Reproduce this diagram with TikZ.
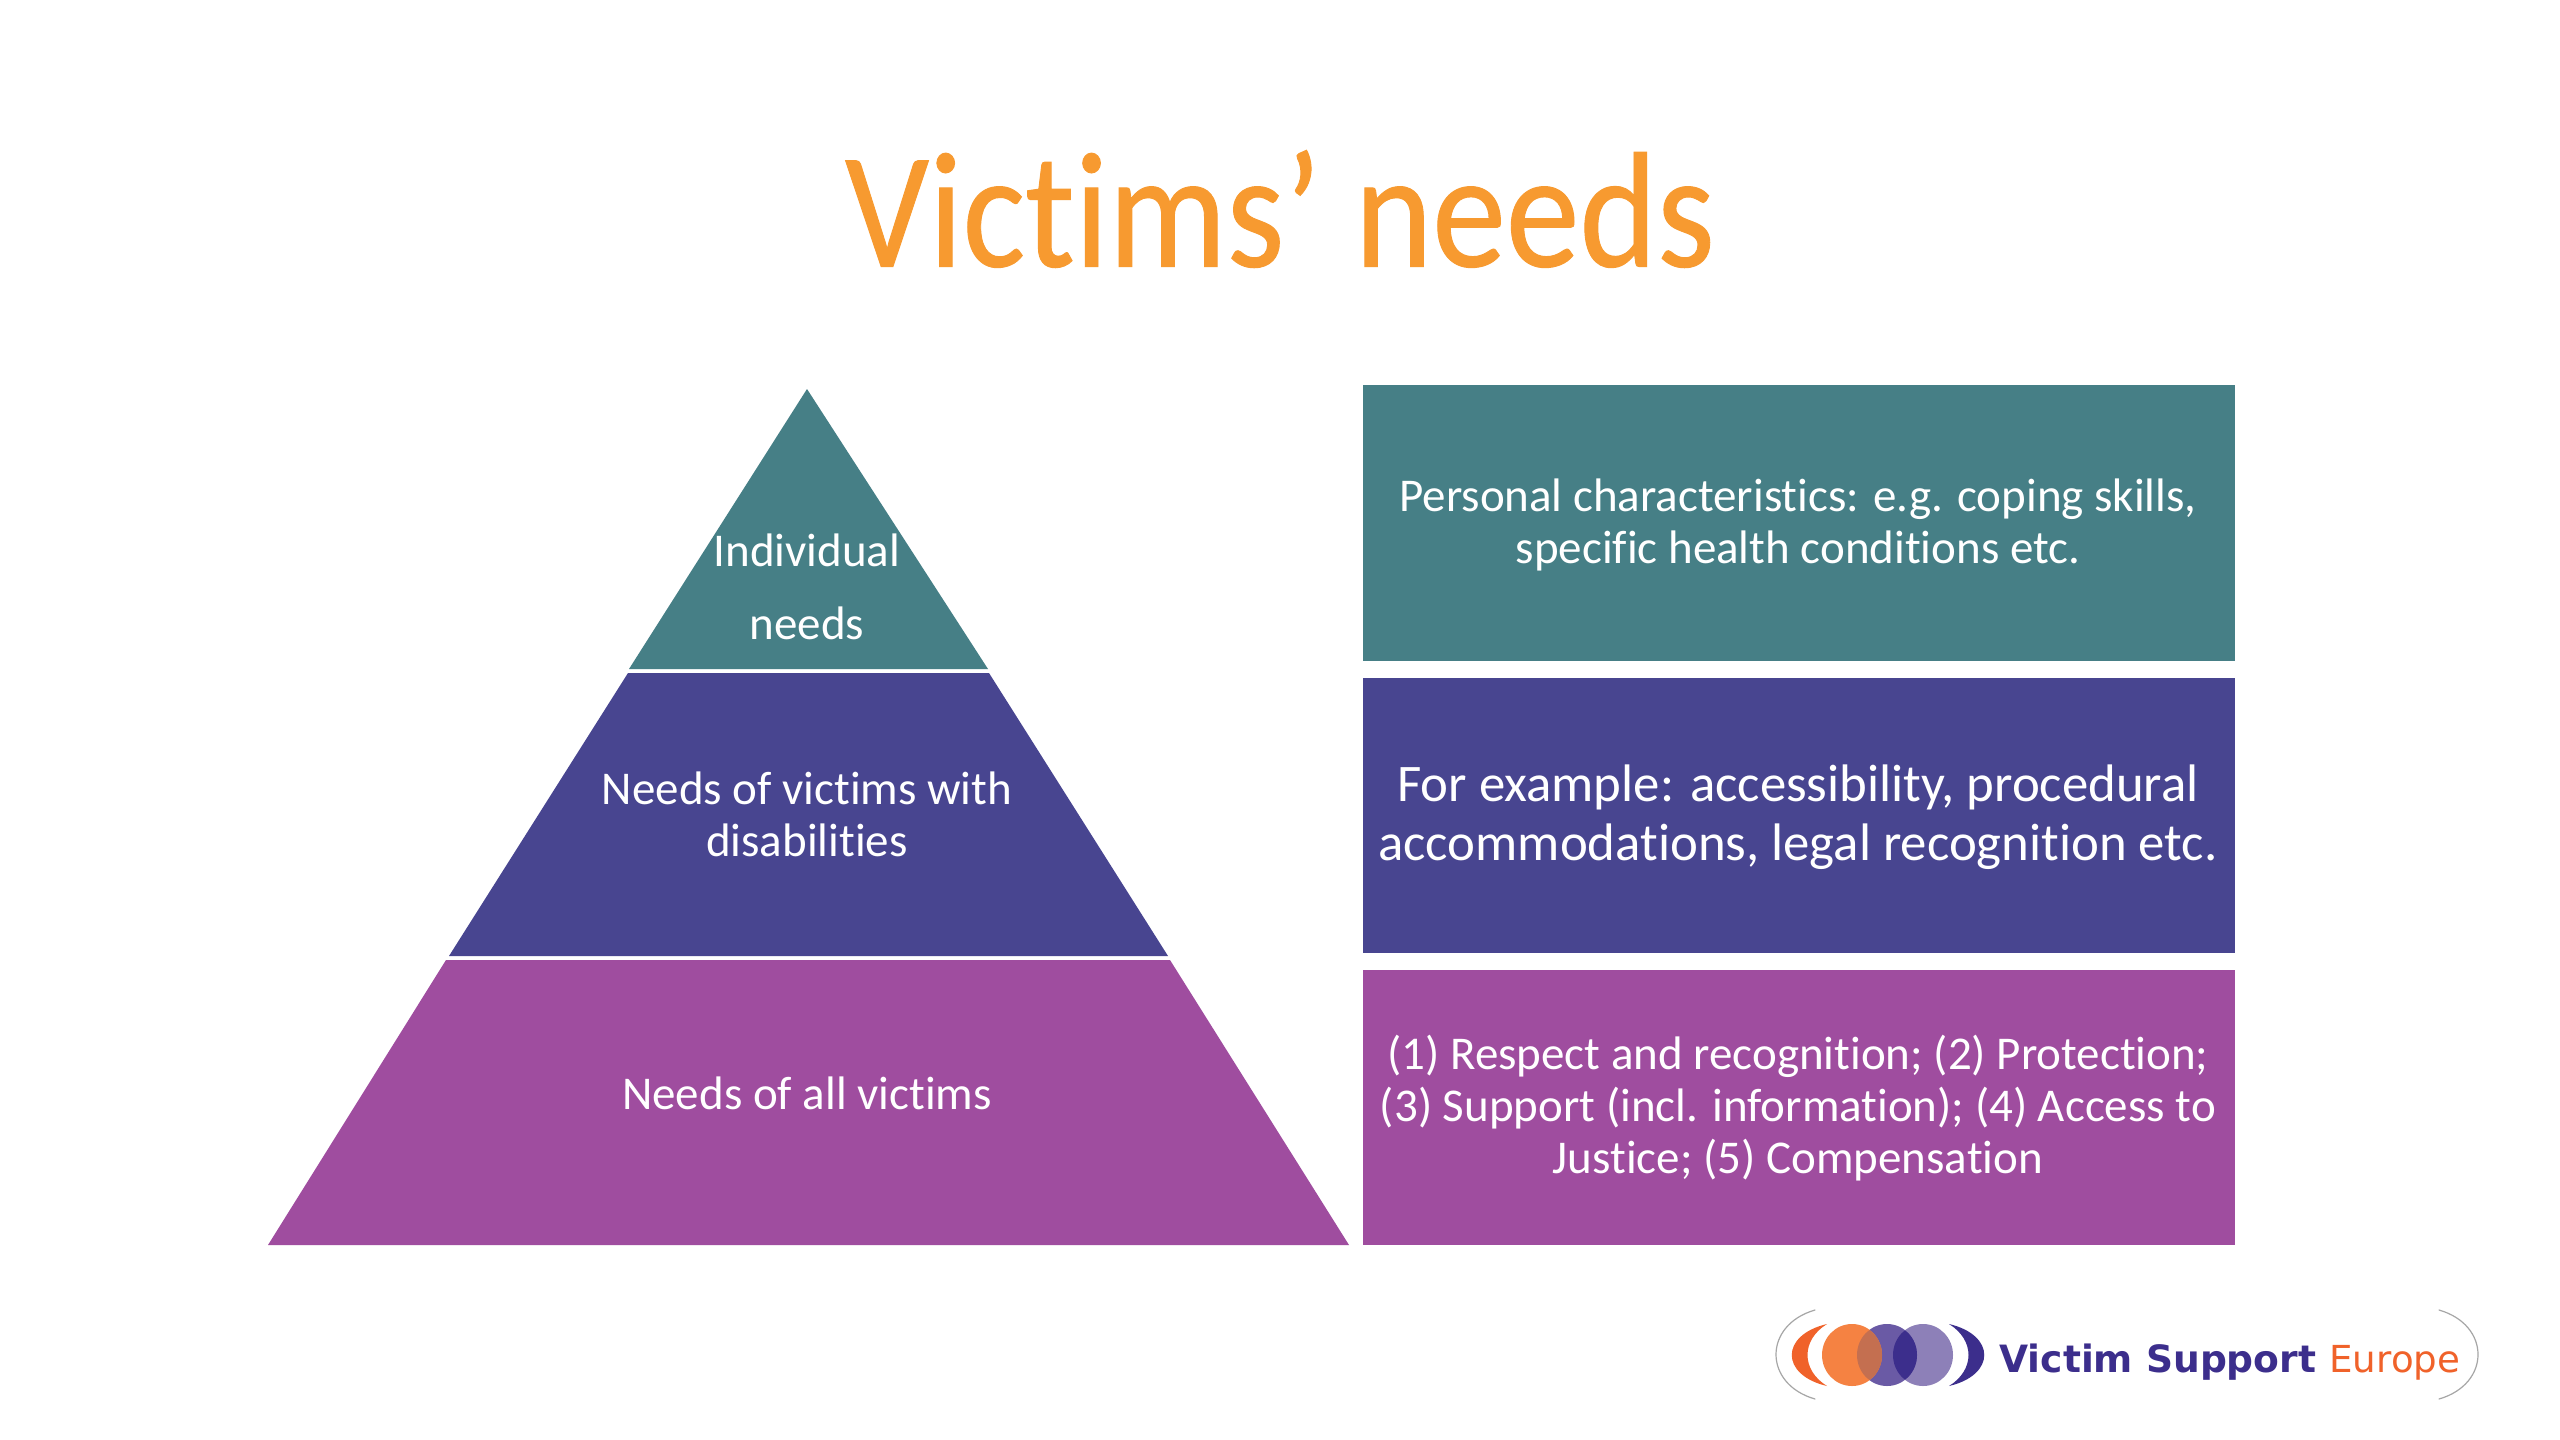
\documentclass[tikz,border=0pt]{standalone}
\usepackage{graphicx}
\usepackage{fontspec}
\setmainfont[Ligatures=NoCommon]{Carlito}
\newfontfamily\titlefont[Ligatures=NoCommon,FakeBold=0.6]{Carlito}
\newfontfamily\logofont{DejaVu Sans}
\definecolor{tealc}{HTML}{467F86}
\definecolor{indigoc}{HTML}{484590}
\definecolor{purplec}{HTML}{9F4D9F}
\definecolor{titlec}{HTML}{F79A30}
\definecolor{logoorange}{HTML}{F0622A}
\definecolor{logopurple}{HTML}{3C2E8C}
\definecolor{lorange}{HTML}{F58242}
\definecolor{lmid}{HTML}{6A5AA5}
\definecolor{llight}{HTML}{8D80B8}
\definecolor{lover}{HTML}{C46F50}
\tikzset{
  lbl/.style={text=white,align=center,inner sep=0pt},
  small/.style={lbl,font=\fontsize{23.5}{26}\selectfont},
  big/.style={lbl,font=\fontsize{26.4}{29.5}\selectfont},
  arcline/.style={draw=black!35,line width=0.6pt,line cap=round}
}
\begin{document}
\begin{tikzpicture}[x=0.5pt,y=-0.5pt]
\useasboundingbox (0,0) rectangle (2560,1440);
\fill[white] (0,0) rectangle (2560,1440);
\node[inner sep=0pt,text=titlec,font=\titlefont\fontsize{75}{80}\selectfont] (title) at (1280,209) {\scalebox{0.985}[1.1]{Victims’ needs}};
% pyramid
\fill[tealc] (807,389) -- (988,669) -- (629,669) -- cycle;
\fill[indigoc] (628,673) -- (989,673) -- (1168,956) -- (449,956) -- cycle;
\fill[purplec] (446,960) -- (1170,960) -- (1349,1245) -- (268,1245) -- cycle;
\node[small,font=\fontsize{23.5}{36.5}\selectfont] (p1) at (807,587) {Individual\\needs};
\node[small] (p2) at (807,814) {Needs of victims with\\disabilities};
\node[small] (p3) at (807,1093) {Needs of all victims};
% boxes
\fill[tealc] (1363,385) rectangle (2235,661);
\fill[indigoc] (1363,678) rectangle (2235,953);
\fill[purplec] (1363,970) rectangle (2235,1245);
\node[small] (b1) at (1798,525) {Personal characteristics: e.g. coping skills,\\specific health conditions etc.};
\node[big] (b2) at (1798,817) {For example: accessibility, procedural\\accommodations, legal recognition etc.};
\node[small] (b3) at (1798,1108) {(1) Respect and recognition; (2) Protection;\\(3) Support (incl. information); (4) Access to\\Justice; (5) Compensation};
% logo
\draw[arcline] (1815,1310) .. controls (1763,1325) and (1763,1384) .. (1815,1399);
\draw[arcline] (2439,1310) .. controls (2491,1325) and (2491,1384) .. (2439,1399);
\fill[logoorange] (1827,1324) .. controls (1780,1335) and (1780,1375) .. (1827,1386) .. controls (1801,1370) and (1801,1340) .. (1827,1324) -- cycle;
\fill[logopurple] (1949,1324) .. controls (1996,1335) and (1996,1375) .. (1949,1386) .. controls (1975,1370) and (1975,1340) .. (1949,1324) -- cycle;
\fill[llight] (1923,1355) ellipse [x radius=30,y radius=31];
\fill[lmid] (1887,1355) ellipse [x radius=30,y radius=31];
\fill[lorange] (1852,1355) ellipse [x radius=30,y radius=31];
\begin{scope}
\clip (1852,1355) ellipse [x radius=30,y radius=31];
\fill[lover] (1887,1355) ellipse [x radius=30,y radius=31];
\end{scope}
\begin{scope}
\clip (1887,1355) ellipse [x radius=30,y radius=31];
\fill[logopurple] (1923,1355) ellipse [x radius=30,y radius=31];
\end{scope}
\node[anchor=base west,inner sep=0pt,text=logopurple,font=\logofont\bfseries\fontsize{18.8}{22}\selectfont] (l1) at (1999,1372) {Victim Support};
\node[anchor=base west,inner sep=0pt,text=logoorange,font=\logofont\fontsize{18.6}{22}\selectfont] (l2) at (2329,1372) {Europe};
\end{tikzpicture}
\end{document}
